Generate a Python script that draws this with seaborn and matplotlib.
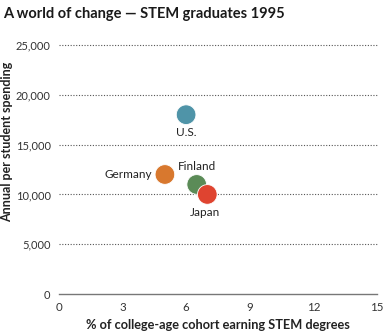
import matplotlib
matplotlib.use("Agg")
import matplotlib.pyplot as plt
import seaborn as sns
import pandas as pd

countries = ["U.S.", "Germany", "Finland", "Japan"]
stem_pct = [6.0, 5.0, 6.5, 7.0]
spending = [18000, 12000, 11000, 10000]
colors = ["#4f94a8", "#d8782e", "#5b8b57", "#df4430"]
x_ticks = [0, 3, 6, 9, 12, 15]
y_ticks = [0, 5000, 10000, 15000, 20000, 25000]

df = pd.DataFrame({"country": countries, "pct": stem_pct, "spend": spending})

sns.set_style("white")
plt.rcParams["font.family"] = ["Lato", "DejaVu Sans"]

fig = plt.figure(figsize=(3.85, 3.35), dpi=100)
ax = fig.add_axes([0.153, 0.122, 0.826, 0.744])

sns.scatterplot(data=df, x="pct", y="spend", hue="country", palette=colors,
                s=200, edgecolor="white", linewidth=0.6, legend=False, ax=ax, zorder=3)

ax.set_xlim(0, 15)
ax.set_ylim(0, 25000)
ax.set_xticks(x_ticks)
ax.set_yticks(y_ticks)
ax.set_xticklabels([str(v) for v in x_ticks])
ax.set_yticklabels([f"{v:,}" for v in y_ticks])
for y in y_ticks[1:]:
    ax.axhline(y, color="#555555", linestyle=(0, (1, 1.5)), linewidth=0.8, zorder=1, clip_on=False)

for s in ["top", "right", "left"]:
    ax.spines[s].set_visible(False)
ax.spines["bottom"].set_color("#777777")
ax.spines["bottom"].set_linewidth(1.0)
ax.tick_params(axis="x", direction="out", length=3, width=1, color="#777777",
               labelsize=8.3, labelcolor="#333333", pad=3)
ax.tick_params(axis="y", length=0, labelsize=8.0, labelcolor="#333333", pad=6)

ax.set_xlabel("% of college-age cohort earning STEM degrees", fontsize=9.2,
              fontweight="bold", color="#222222", labelpad=4)
ax.set_ylabel("")
fig.text(7.5 / 385, 1 - 142 / 335, "Annual per student spending", fontsize=9.0,
         fontweight="bold", color="#222222", rotation=90, ha="center", va="center")

lab = dict(fontsize=8.5, color="#222222")
ax.annotate("U.S.", (stem_pct[0], spending[0]), xytext=(0, -9), textcoords="offset points",
            ha="center", va="top", **lab)
ax.annotate("Germany", (stem_pct[1], spending[1]), xytext=(-9, 0), textcoords="offset points",
            ha="right", va="center", **lab)
ax.annotate("Finland", (stem_pct[2], spending[2]), xytext=(0, 9), textcoords="offset points",
            ha="center", va="bottom", **lab)
ax.annotate("Japan", (stem_pct[3], spending[3]), xytext=(-2, -9), textcoords="offset points",
            ha="center", va="top", **lab)

fig.text(0.008, 0.98, "A world of change \u2014 STEM graduates 1995", fontsize=10.5,
         fontweight="bold", color="#1a1a1a", ha="left", va="top")

fig.savefig("out.png", dpi=100)
